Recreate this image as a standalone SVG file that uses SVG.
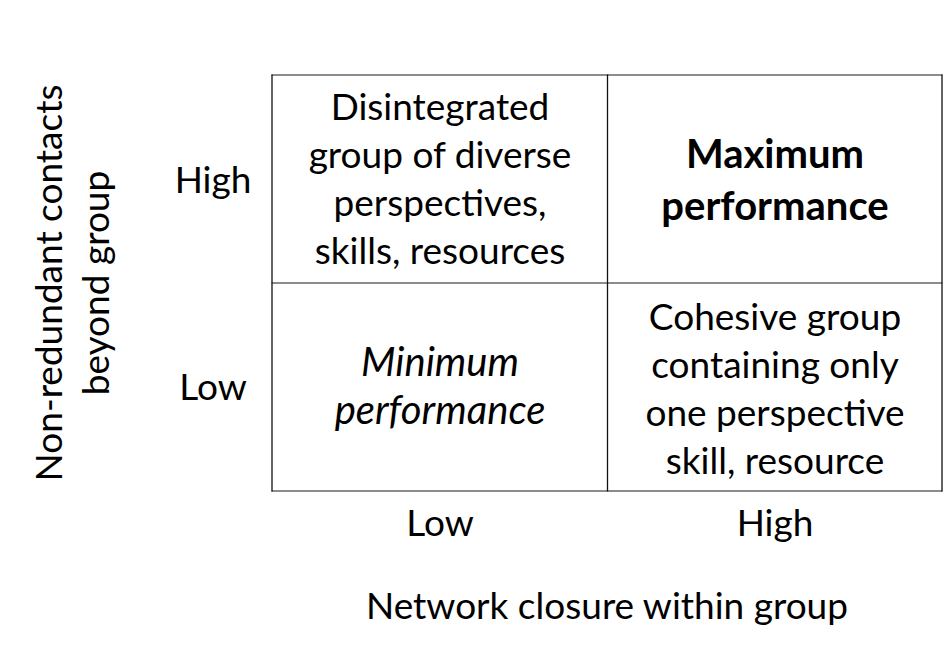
<svg xmlns="http://www.w3.org/2000/svg" width="949" height="646" viewBox="0 0 949 646">
<style>
text{font-family:Lato,"Open Sans","Liberation Sans",sans-serif;font-size:37px;fill:#000;text-anchor:middle}
.b{font-weight:bold;font-size:40px}
.i{font-style:italic;font-size:40px}
.h{stroke:#666;stroke-width:1.6;fill:none}
.v{stroke:#111;stroke-width:1.3;fill:none}
</style>
<rect width="949" height="646" fill="#fff"/>
<g id="grid">
<line class="h" x1="271.5" y1="75" x2="942.5" y2="75"/>
<line class="h" x1="271.5" y1="283" x2="942.5" y2="283"/>
<line class="h" x1="271.5" y1="491" x2="942.5" y2="491"/>
<line class="v" x1="272" y1="74.5" x2="272" y2="491.5"/>
<line class="v" x1="607.5" y1="74.5" x2="607.5" y2="491.5"/>
<line class="v" x1="942" y1="74.5" x2="942" y2="491.5"/>
</g>
<g id="cell-high-low">
<text x="440" y="120">Disintegrated</text>
<text x="440" y="168">group of diverse</text>
<text x="440" y="216">perspectives,</text>
<text x="440" y="264">skills, resources</text>
</g>
<g id="cell-high-high">
<text class="b" x="775" y="168">Maximum</text>
<text class="b" x="775" y="220">performance</text>
</g>
<g id="cell-low-low">
<text class="i" x="440" y="376">Minimum</text>
<text class="i" x="440" y="424">performance</text>
</g>
<g id="cell-low-high">
<text x="775" y="330">Cohesive group</text>
<text x="775" y="378">containing only</text>
<text x="775" y="426">one perspective</text>
<text x="775" y="474">skill, resource</text>
</g>
<g id="axis-y">
<text x="213" y="193">High</text>
<text x="213" y="400">Low</text>
<text transform="translate(62 283) rotate(-90)" x="0" y="0">Non-redundant contacts</text>
<text transform="translate(109 283) rotate(-90)" x="0" y="0">beyond group</text>
</g>
<g id="axis-x">
<text x="440" y="536">Low</text>
<text x="775" y="536">High</text>
<text x="607" y="619">Network closure within group</text>
</g>
</svg>
